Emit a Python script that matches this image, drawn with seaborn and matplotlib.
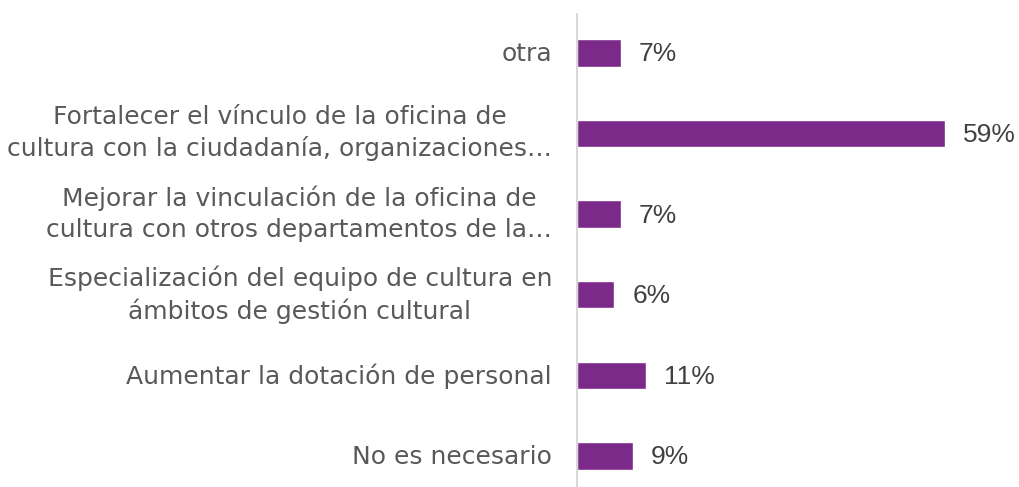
import matplotlib
matplotlib.use("Agg")
import matplotlib.pyplot as plt
import matplotlib.transforms as mtransforms
import seaborn as sns
import pandas as pd

categories = [
    "otra",
    "Fortalecer el vínculo de la oficina de\ncultura con la ciudadanía, organizaciones…",
    "Mejorar la vinculación de la oficina de\ncultura con otros departamentos de la…",
    "Especialización del equipo de cultura en\námbitos de gestión cultural",
    "Aumentar la dotación de personal",
    "No es necesario",
]
values = [7, 59, 7, 6, 11, 9]
value_labels = ["7%", "59%", "7%", "6%", "11%", "9%"]

sns.set_theme(style="white")
plt.rcParams['font.family'] = ['DejaVu Sans']

df = pd.DataFrame({"cat": categories, "val": values})

fig = plt.figure(figsize=(10.19, 4.87), dpi=100)
ax = fig.add_axes([577/1019, 0, 1 - 577/1019, 1 - 14/487])
sns.barplot(data=df, y="cat", x="val", orient="h", color="#7B2A8A",
            saturation=1, width=0.34, ax=ax)
ax.set_xlim(0, 70.9)
ax.set_ylim(5.385, -0.484)
ax.set_xlabel("")
ax.set_ylabel("")
ax.set_xticks([])
for s in ["top", "right", "bottom"]:
    ax.spines[s].set_visible(False)
ax.spines["left"].set_color("#D9D9D9")
ax.spines["left"].set_linewidth(1.5)
ax.tick_params(axis="y", length=0, pad=18)
shift_multi = mtransforms.ScaledTranslation(0, 4.5 / 72, fig.dpi_scale_trans)
shift_single = mtransforms.ScaledTranslation(0, 1.2 / 72, fig.dpi_scale_trans)
for t in ax.get_yticklabels():
    t.set_fontsize(18)
    t.set_color("#595959")
    t.set_multialignment("center")
    t.set_linespacing(1.35)
    if "\n" in t.get_text():
        t.set_transform(t.get_transform() + shift_multi)
    else:
        t.set_transform(t.get_transform() + shift_single)
for i, (v, lab) in enumerate(zip(values, value_labels)):
    ax.annotate(lab, xy=(v, i), xytext=(13, -1), textcoords="offset points",
                va="center", ha="left", fontsize=19, color="#404040",
                family=["Liberation Sans", "DejaVu Sans"])
fig.savefig("out.png", dpi=100)
